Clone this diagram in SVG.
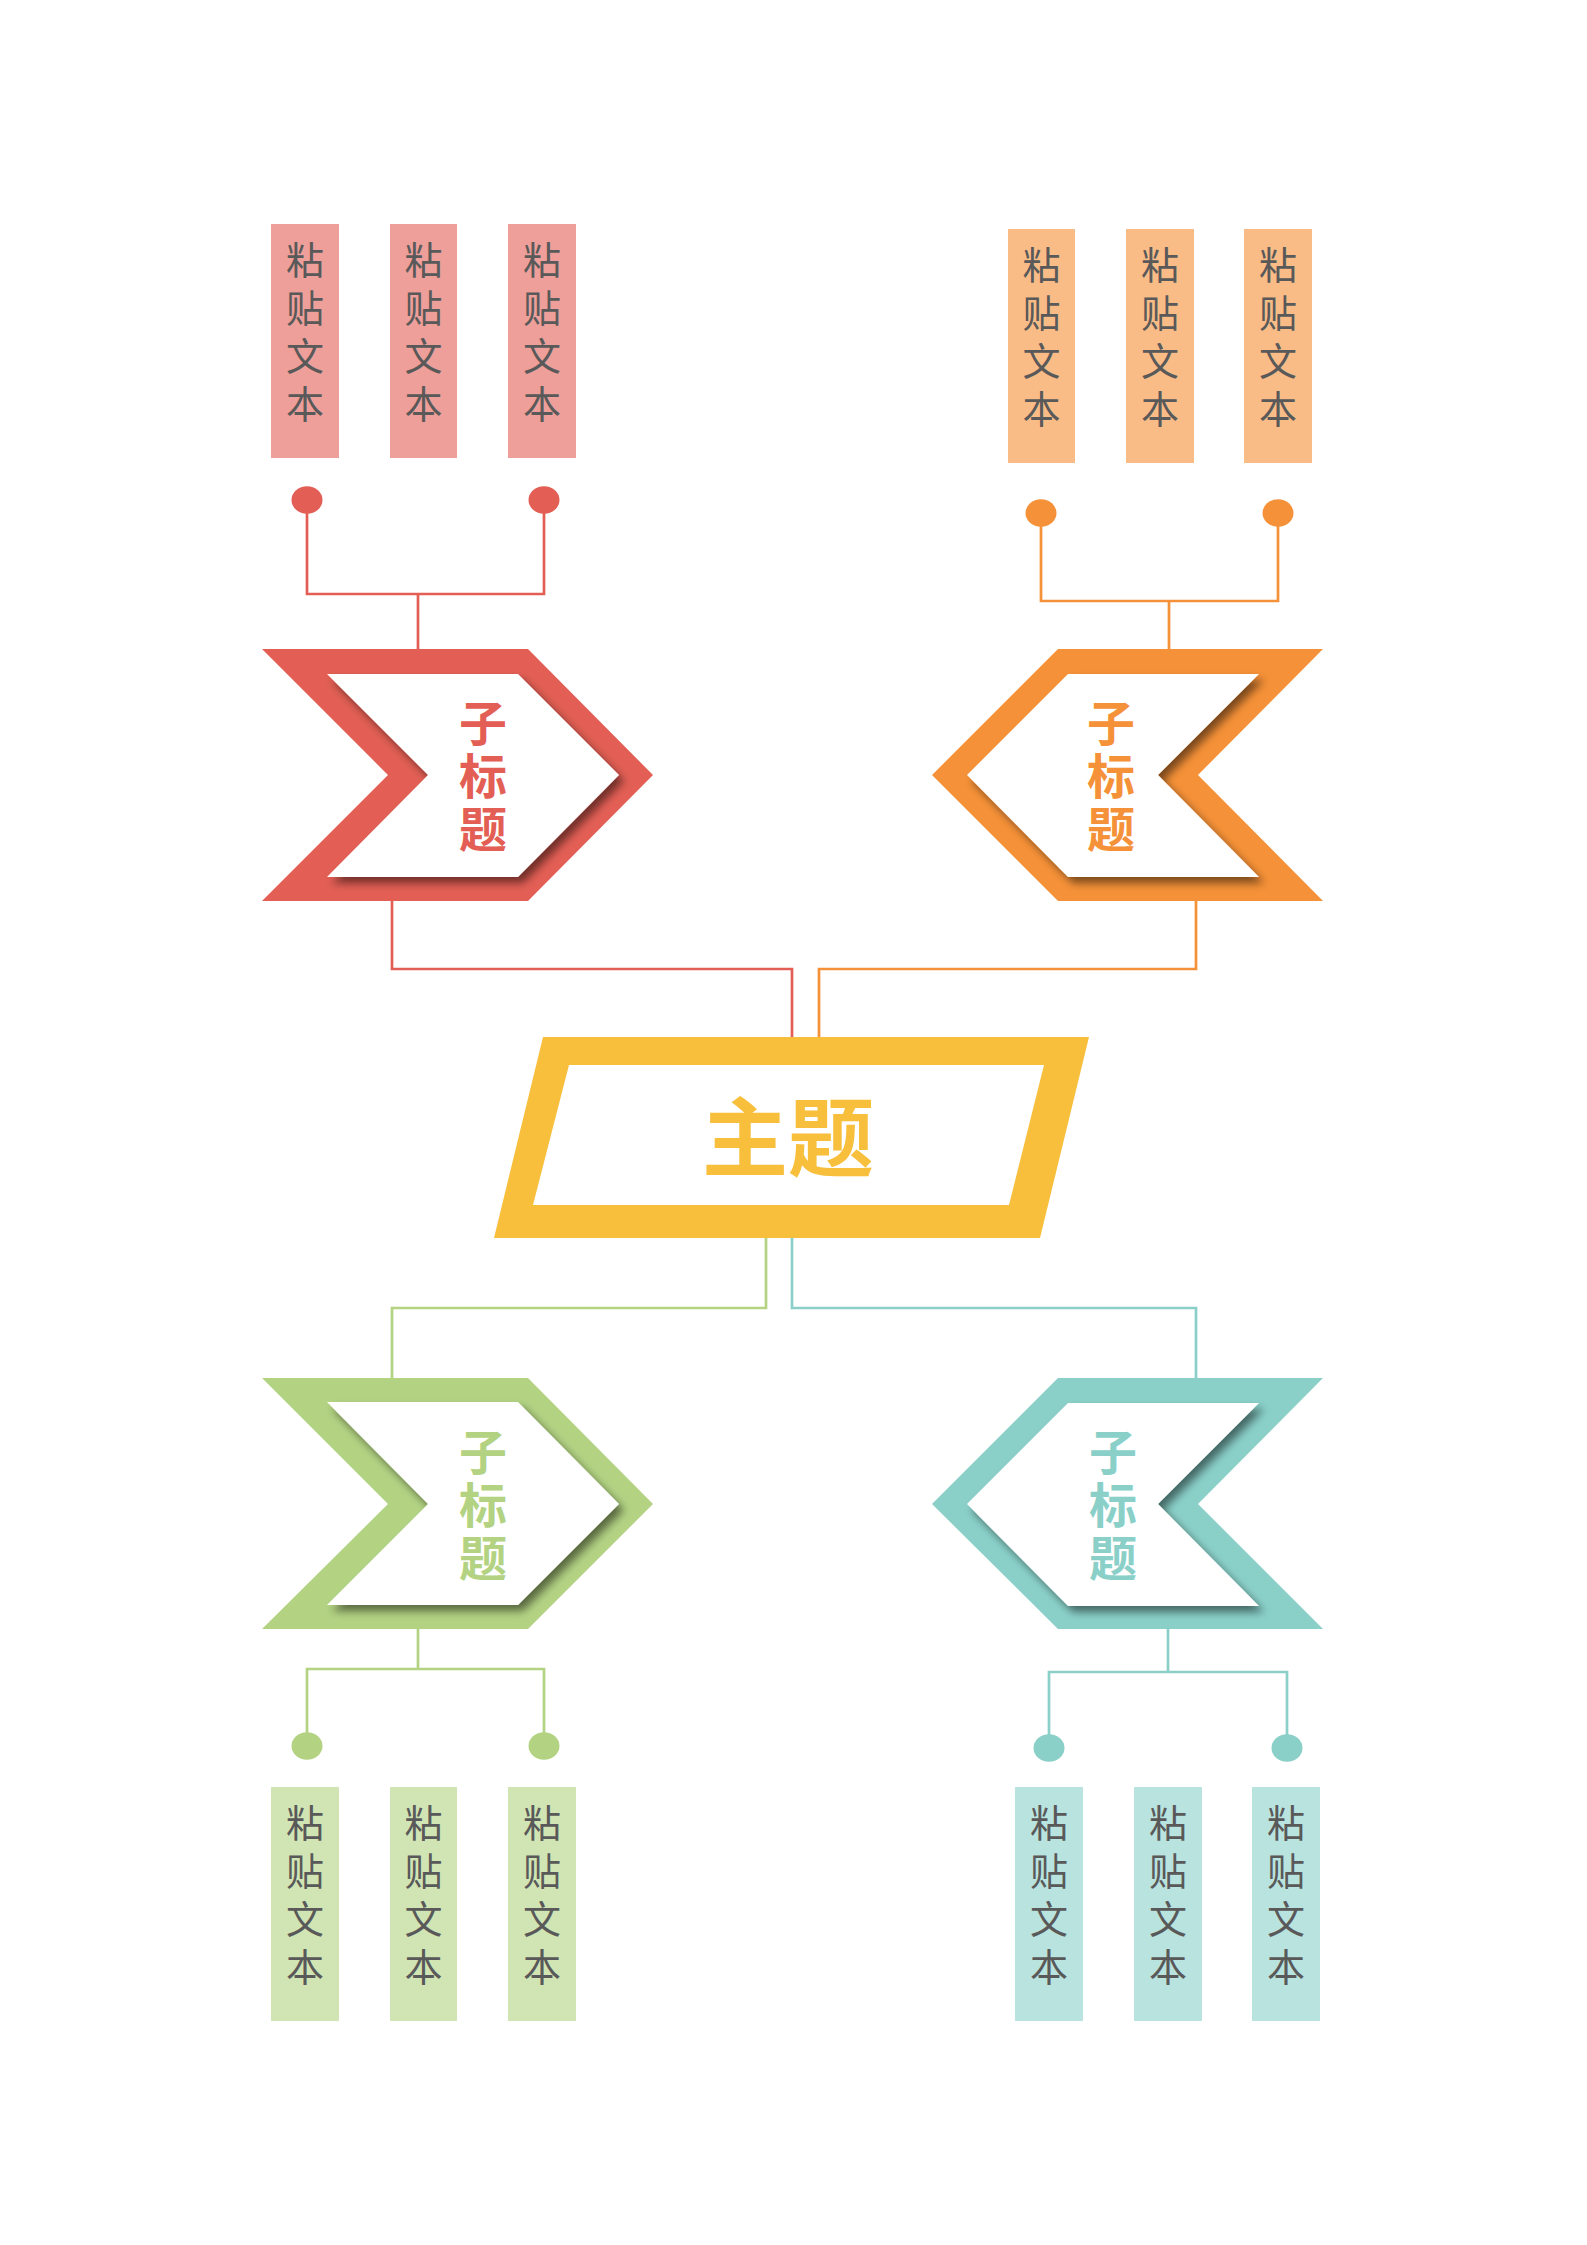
<svg xmlns="http://www.w3.org/2000/svg" width="1587" height="2245" viewBox="0 0 1587 2245">
<defs>
<style>
.bg{fill:#FFFFFF}
.inner{fill:#FFFFFF;filter:url(#sh)}
.conn{fill:none;stroke-width:2.7}
.txt{font-family:"Noto Sans CJK SC","Noto Sans CJK JP",sans-serif;font-size:38px;fill:#595959;writing-mode:vertical-rl;text-orientation:upright;letter-spacing:10px}
.sub{font-family:"Noto Sans CJK SC","Noto Sans CJK JP",sans-serif;font-size:48px;font-weight:bold;writing-mode:vertical-rl;text-orientation:upright;letter-spacing:5px}
.main{font-family:"Noto Sans CJK SC","Noto Sans CJK JP",sans-serif;font-size:86px;font-weight:bold;text-anchor:middle;fill:#F7BF3B}
.red{fill:#E35F55}.redL{fill:#EE9F99}.redS{stroke:#E35F55}
.org{fill:#F59138}.orgL{fill:#F9BC87}.orgS{stroke:#F59138}
.grn{fill:#B3D383}.grnL{fill:#D1E5B4}.grnS{stroke:#B3D383}
.tel{fill:#8AD0C9}.telL{fill:#B9E3DF}.telS{stroke:#8AD0C9}
</style>
<filter id="sh" x="-20%" y="-20%" width="140%" height="140%">
<feGaussianBlur in="SourceAlpha" stdDeviation="4"/>
<feOffset dx="5" dy="6" result="b"/>
<feFlood flood-color="#000000" flood-opacity="0.5"/>
<feComposite in2="b" operator="in"/>
<feMerge><feMergeNode/><feMergeNode in="SourceGraphic"/></feMerge>
</filter>
</defs>
<rect class="bg" x="0" y="0" width="1587" height="2245"/>

<g id="connectors">
<path class="conn redS" d="M307,500 V594 H544 V500 M418,594 V649"/>
<path class="conn redS" d="M392,901 V969 H792 V1037"/>
<path class="conn orgS" d="M1041,513 V601 H1278 V513 M1169,601 V649"/>
<path class="conn orgS" d="M1196,901 V969 H819 V1037"/>
<path class="conn grnS" d="M766,1238 V1308 H392 V1378"/>
<path class="conn grnS" d="M418,1629 V1669 M307,1746 V1669 H544 V1746"/>
<path class="conn telS" d="M792,1238 V1308 H1196 V1378"/>
<path class="conn telS" d="M1168,1629 V1672 M1049,1748 V1672 H1287 V1748"/>
<ellipse class="red" cx="307" cy="500" rx="15.5" ry="13.7"/>
<ellipse class="red" cx="544" cy="500" rx="15.5" ry="13.7"/>
<ellipse class="org" cx="1041" cy="513" rx="15.5" ry="13.7"/>
<ellipse class="org" cx="1278" cy="513" rx="15.5" ry="13.7"/>
<ellipse class="grn" cx="307" cy="1746" rx="15.5" ry="13.7"/>
<ellipse class="grn" cx="544" cy="1746" rx="15.5" ry="13.7"/>
<ellipse class="tel" cx="1049" cy="1748" rx="15.5" ry="13.7"/>
<ellipse class="tel" cx="1287" cy="1748" rx="15.5" ry="13.7"/>
</g>

<g id="main-topic">
<polygon fill="#F7BF3B" points="543,1037 1089,1037 1040,1238 494,1238"/>
<polygon fill="#FFFFFF" points="569,1065 1044,1065 1009,1205 533,1205"/>
<text class="main" x="788" y="1170">主题</text>
</g>

<g id="sub-red">
<polygon class="red" points="262,649 528,649 653,775 528,901 262,901 388,775"/>
<polygon class="inner" points="327,674 518,674 619,775 518,877 327,877 428,775"/>
<text class="sub red" x="483" y="699">子标题</text>
</g>

<g id="sub-orange">
<polygon class="org" points="1058,649 1323,649 1198,775 1323,901 1058,901 932,775"/>
<polygon class="inner" points="1068,674 1259,674 1158,775 1259,877 1068,877 967,775"/>
<text class="sub org" x="1111" y="699">子标题</text>
</g>

<g id="sub-green">
<polygon class="grn" points="262,1378 528,1378 653,1504 528,1629 262,1629 388,1504"/>
<polygon class="inner" points="327,1402 518,1402 619,1504 518,1605 327,1605 428,1504"/>
<text class="sub grn" x="483" y="1428">子标题</text>
</g>

<g id="sub-teal">
<polygon class="tel" points="1058,1378 1323,1378 1198,1504 1323,1629 1058,1629 932,1504"/>
<polygon class="inner" points="1068,1403 1259,1403 1158,1504 1259,1606 1068,1606 967,1504"/>
<text class="sub tel" x="1113" y="1428">子标题</text>
</g>

<g id="red-box-1"><rect class="redL" x="271" y="224" width="68" height="234"/><text class="txt" x="305" y="241">粘贴文本</text></g>
<g id="red-box-2"><rect class="redL" x="390" y="224" width="67" height="234"/><text class="txt" x="423.5" y="241">粘贴文本</text></g>
<g id="red-box-3"><rect class="redL" x="508" y="224" width="68" height="234"/><text class="txt" x="542" y="241">粘贴文本</text></g>

<g id="orange-box-1"><rect class="orgL" x="1008" y="229" width="67" height="234"/><text class="txt" x="1041.5" y="246">粘贴文本</text></g>
<g id="orange-box-2"><rect class="orgL" x="1126" y="229" width="68" height="234"/><text class="txt" x="1160" y="246">粘贴文本</text></g>
<g id="orange-box-3"><rect class="orgL" x="1244" y="229" width="68" height="234"/><text class="txt" x="1278" y="246">粘贴文本</text></g>

<g id="green-box-1"><rect class="grnL" x="271" y="1787" width="68" height="234"/><text class="txt" x="305" y="1804">粘贴文本</text></g>
<g id="green-box-2"><rect class="grnL" x="390" y="1787" width="67" height="234"/><text class="txt" x="423.5" y="1804">粘贴文本</text></g>
<g id="green-box-3"><rect class="grnL" x="508" y="1787" width="68" height="234"/><text class="txt" x="542" y="1804">粘贴文本</text></g>

<g id="teal-box-1"><rect class="telL" x="1015" y="1787" width="68" height="234"/><text class="txt" x="1049" y="1804">粘贴文本</text></g>
<g id="teal-box-2"><rect class="telL" x="1134" y="1787" width="68" height="234"/><text class="txt" x="1168" y="1804">粘贴文本</text></g>
<g id="teal-box-3"><rect class="telL" x="1252" y="1787" width="68" height="234"/><text class="txt" x="1286" y="1804">粘贴文本</text></g>
</svg>
